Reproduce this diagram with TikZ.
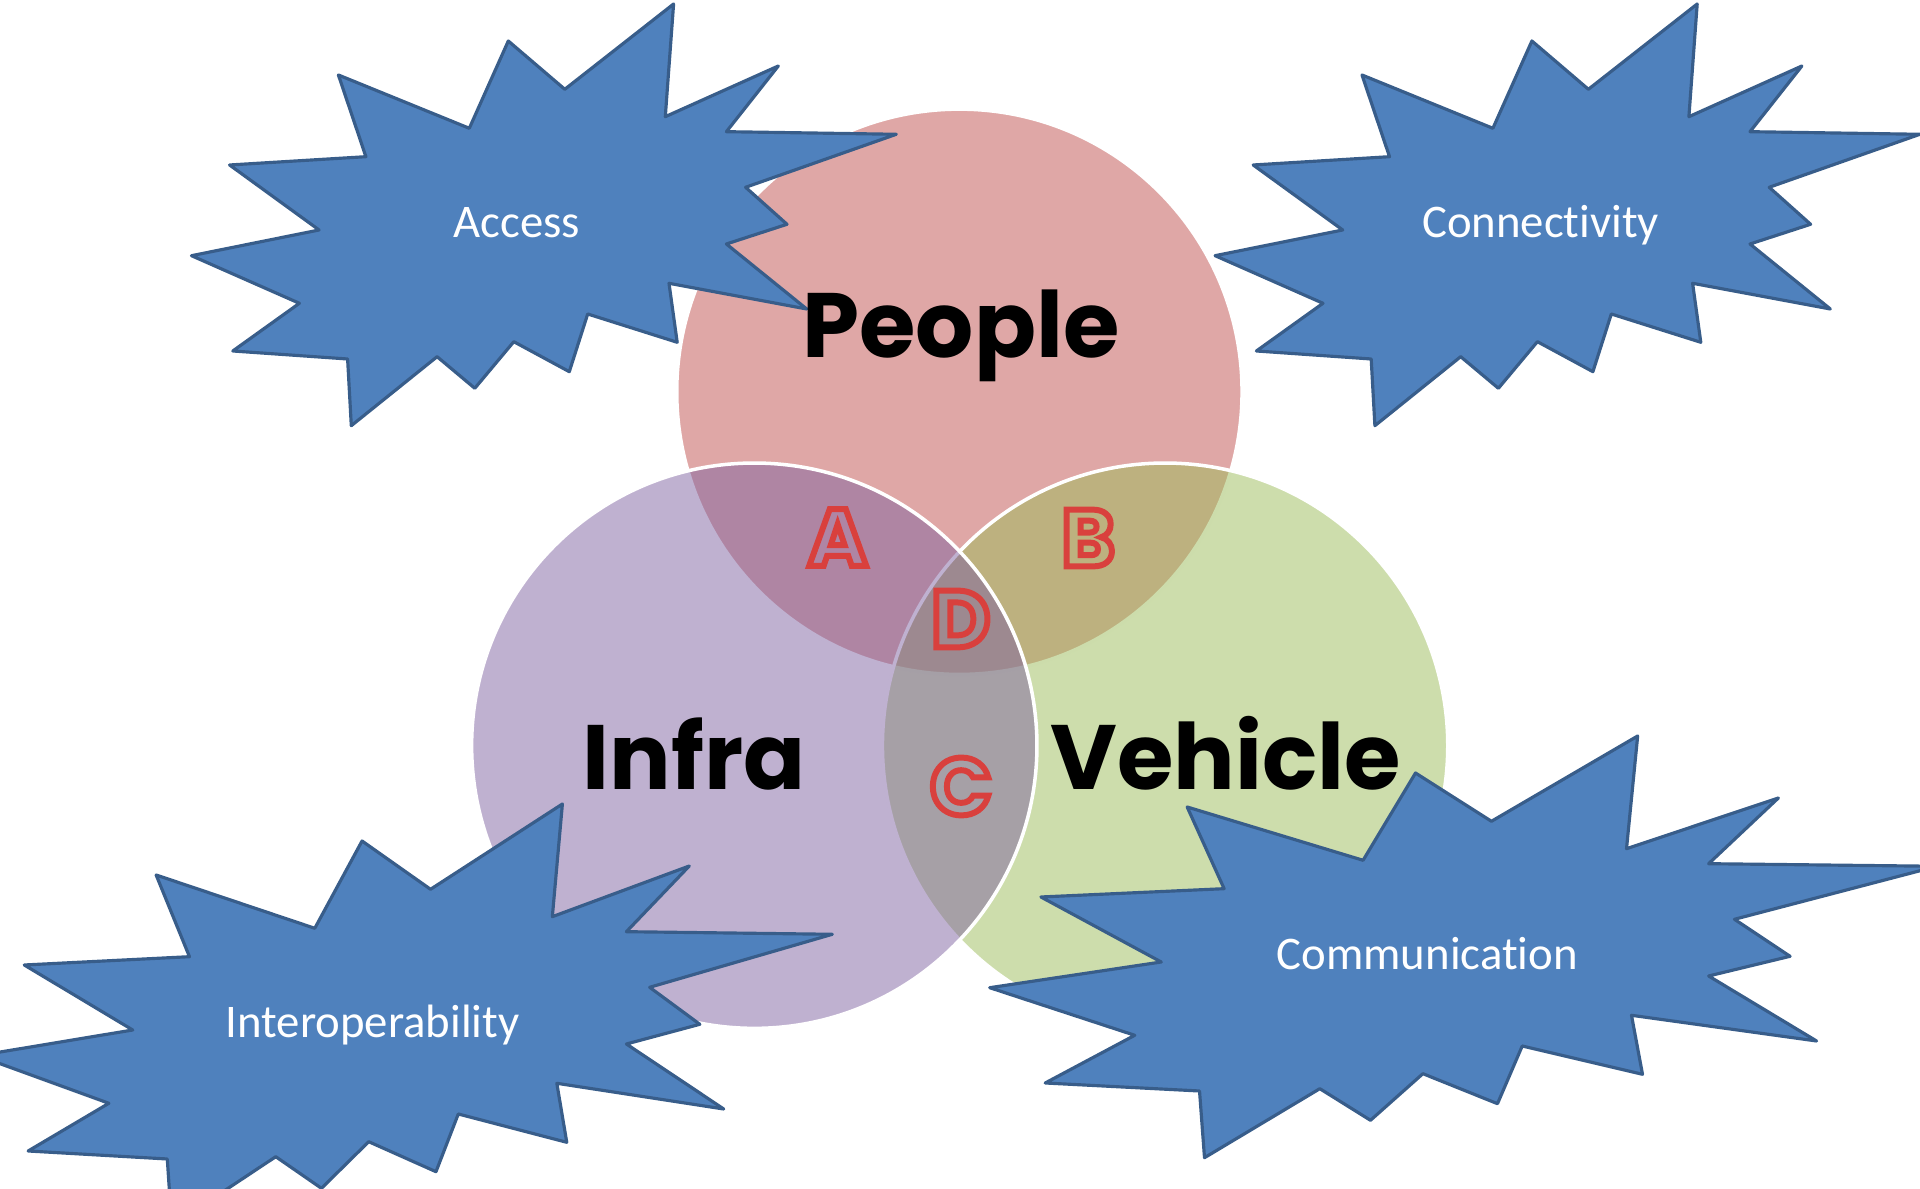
\documentclass[tikz,border=0pt]{standalone}
\usepackage{fontspec}
\setmainfont{Carlito}[Ligatures=NoCommon]
\newfontfamily\vennfont{Poppins}
\definecolor{peoplecol}{HTML}{C0504D}
\definecolor{infracol}{HTML}{8064A2}
\definecolor{vehiclecol}{HTML}{9BBB59}
\definecolor{burstfill}{HTML}{4F81BD}
\definecolor{burstdraw}{HTML}{385D8A}
\definecolor{acol}{HTML}{AF85A4}
\definecolor{bcol}{HTML}{BDB17F}
\definecolor{ccol}{HTML}{A6A0A7}
\definecolor{dcol}{HTML}{9F8A90}
% lettera con contorno rosso (testo pieno + tratto)
\newcommand{\regionmark}[2]{\textcolor{#1}{%
    \special{pdf:literal direct 2 Tr 1.7 w 0.851 0.251 0.239 RG}#2%
    \special{pdf:literal direct 0 Tr}}}
\tikzset{
    % Stile per i cerchi (semitrasparenti, bordo bianco)
    vennring/.style={circle, draw=white, line width=1pt, fill opacity=0.5,
                     minimum size=5.65cm, inner sep=0pt, outer sep=0pt},
    % Stile per i nomi dei cerchi
    vennlabel/.style={anchor=base, inner sep=0pt,
                      font=\vennfont\bfseries\fontsize{26}{30}\selectfont},
    % Stile per le lettere delle intersezioni
    regionletter/.style={inner sep=0pt,
                         font=\vennfont\bfseries\fontsize{23}{26}\selectfont},
    % Stile per le stelle (esplosione)
    burstline/.style={draw=burstdraw, fill=burstfill, line width=0.9pt,
                      line join=round},
    bursttext/.style={anchor=base, inner sep=0pt, text=white,
                      font=\fontsize{13.3}{16}\selectfont},
    burst/.pic={
        \path[burstline] (156.6,-219) -- (148.3,-106.3) -- (261.3,-157)
            -- (209.4,-91.3) -- (379.3,-88.7) -- (228.6,-35.7) -- (270,1.3)
            -- (209.4,21) -- (289.7,86) -- (152,60.3) -- (160.2,119.3)
            -- (70.7,91) -- (52.3,148.7) -- (-3.2,118.7) -- (-42.2,165.3)
            -- (-79.9,133.7) -- (-165.7,202.7) -- (-169.4,136) -- (-284.2,128)
            -- (-217.6,80.3) -- (-325.5,32.7) -- (-197.9,7) -- (-287.4,-58)
            -- (-151.1,-66.3) -- (-178.6,-148) -- (-47.7,-94.7) -- (-8.7,-182)
            -- (47.8,-133.7) -- cycle;
    }
}
\begin{document}
\begin{tikzpicture}[x=0.01cm, y=-0.01cm]
    \useasboundingbox (0,0) rectangle (1920,1189);
    % cerchi
    \node[vennring, fill=peoplecol] (people) at (959.4,391.8) {};
    \node[vennring, fill=vehiclecol] (vehicle) at (1165.1,745.7) {};
    \node[vennring, fill=infracol] (infra) at (754.3,745.7) {};
    % stelle
    \pic (accessburst) at (517,223) {burst};
    \pic (connburst) at (1540.6,223) {burst};
    \pic[xscale=1.212] (interburst) at (372.6,1023) {burst};
    \pic[xscale=1.344] (commburst) at (1427.2,955) {burst};
    \node[bursttext] (access) at (517,237.3) {Access};
    \node[bursttext] (connectivity) at (1540.6,237.3) {Connectivity};
    \node[bursttext] (interop) at (372.6,1037.3) {Interoperability};
    \node[bursttext] (communication) at (1427.2,969.3) {Communication};
    % nomi e lettere
    \node[vennlabel] (peoplelbl) at (961,357.3) {People};
    \node[vennlabel] (infralbl) at (694,789.5) {Infra};
    \node[vennlabel] (vehiclelbl) at (1226,790) {Vehicle};
    \node[regionletter] (lettA) at (837.7,537.5) {\regionmark{acol}{A}};
    \node[regionletter] (lettB) at (1088.3,538) {\regionmark{bcol}{B}};
    \node[regionletter] (lettD) at (960.8,619) {\regionmark{dcol}{D}};
    \node[regionletter] (lettC) at (961,786.5) {\regionmark{ccol}{C}};
\end{tikzpicture}
\end{document}
